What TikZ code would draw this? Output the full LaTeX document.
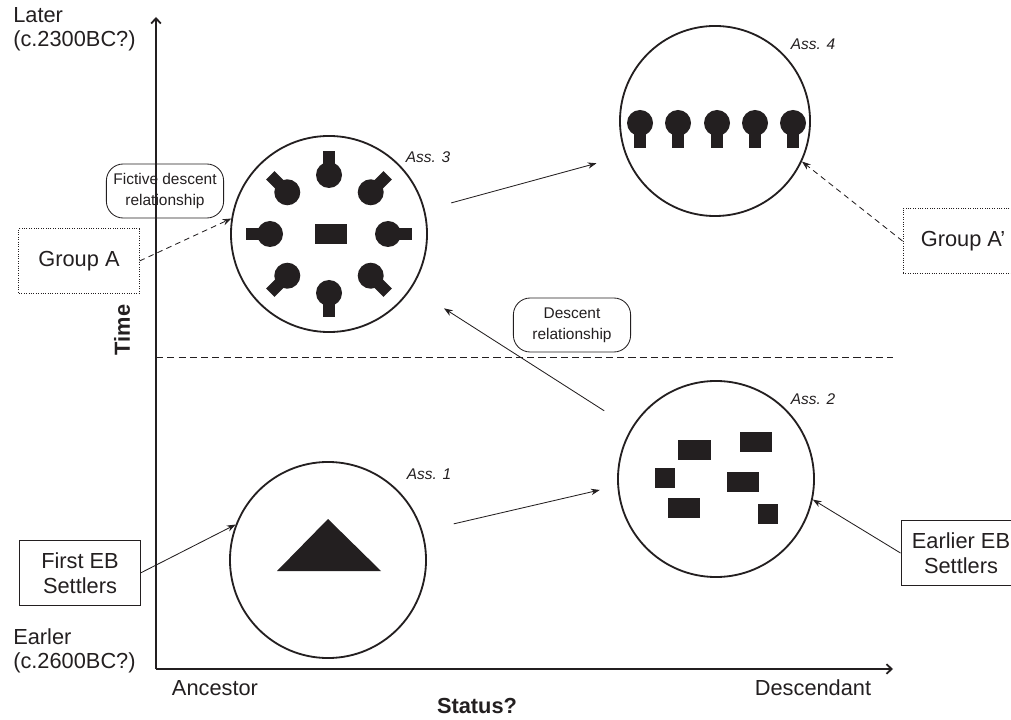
\documentclass[tikz,border=0pt]{standalone}
\usepackage{fontspec}
\setmainfont{Liberation Sans}
\usepackage{tikz}
\usetikzlibrary{
  arrows.meta,
  positioning,
  calc
}
\definecolor{assInk}{HTML}{231F20}

\tikzset{
  assCircle/.style={circle, draw=assInk, line width=1.3pt, minimum size=4.9cm, inner sep=0pt},
  assLabel/.style={font=\fontsize{11}{13}\selectfont\itshape, text=assInk},
  plainBox/.style={draw=assInk, line width=0.7pt, minimum width=3cm, minimum height=1.62cm, inner sep=0pt, align=center, text=assInk, font=\fontsize{15.5}{17.5}\selectfont},
  groupBox/.style={plainBox, densely dotted},
  noteBox/.style={draw=assInk, line width=0.6pt, rounded corners=0.42cm, minimum width=2.93cm, minimum height=1.35cm, inner sep=0pt, align=center, text=assInk, font=\fontsize{11}{15}\selectfont},
  link/.style={draw=assInk, line width=0.6pt, -{Stealth[length=2.2mm, width=1.6mm]}},
  axisLine/.style={draw=assInk, line width=1.3pt, -{Straight Barb[length=1.3mm, width=2.4mm]}},
  axisText/.style={inner sep=0pt, align=left, text=assInk, font=\fontsize{15.5}{17.5}\selectfont}
}

\begin{document}
\begin{tikzpicture}[x=0.025cm, y=-0.025cm]
  \useasboundingbox (0,0) rectangle (1011,720);
  \clip (0,0) rectangle (1011,720);

  \coordinate (origin) at (156,669);
  \coordinate (timeTop) at (156,17);
  \coordinate (statusEnd) at (893,669);
  \coordinate (splitL) at (156,357);
  \coordinate (splitR) at (893,357);
  \draw[axisLine] (origin) -- (timeTop);
  \draw[axisLine] (origin) -- (statusEnd);
  \draw[assInk, line width=0.6pt, dash pattern=on 5pt off 3pt] (splitL) -- (splitR);

  \node[axisText, anchor=north west] (later) at (13,7) {Later\\(c.2300BC?)};
  \node[axisText, anchor=north west] (earlier) at (13,628) {Earler\\(c.2600BC?)};
  \node[axisText] (ancestor) at (215,688) {Ancestor};
  \node[axisText] (descendant) at (813,688) {Descendant};
  \node[axisText, font=\fontsize{15.5}{17.5}\selectfont\bfseries] (status) at (477,706) {Status?};
  \node[axisText, font=\fontsize{15.5}{17.5}\selectfont\bfseries, rotate=90] (time) at (122,330) {Time};

  \node[assCircle] (ass1) at (328,560) {};
  \node[assCircle] (ass2) at (716,479) {};
  \node[assCircle] (ass3) at (329,234) {};
  \node[assCircle, minimum size=4.75cm] (ass4) at (715,121) {};
  \node[assLabel] (ass1Label) at (429,474) {Ass. 1};
  \node[assLabel] (ass2Label) at (813,399) {Ass. 2};
  \node[assLabel] (ass3Label) at (428,157) {Ass. 3};
  \node[assLabel] (ass4Label) at (813,44) {Ass. 4};

  \fill[assInk] (328,519) -- (381,571) -- (277,571) -- cycle;
  \foreach \x/\y/\w/\h in {678/440/33/20, 740/432/32/20, 655/468/20/20, 727/472/32/20, 668/498/32/20, 758/504/20/20}
    \fill[assInk] (\x,\y) rectangle ++(\w,\h);
  \fill[assInk] (315,224) rectangle (347,244);
  \foreach \a in {0,45,...,315} {
    \fill[assInk, shift={(ass3.center)}, rotate=\a] (59,0) circle (13);
    \fill[assInk, shift={(ass3.center)}, rotate=\a] (59,-6) rectangle (83,6);
  }
  \foreach \x in {640,678,717,755,793} {
    \fill[assInk] (\x,123) circle (13);
    \fill[assInk] (\x-6,123) rectangle (\x+6,148);
  }

  \node[groupBox] (groupA) at (79,261) {Group A};
  \node[groupBox] (groupA2) at (963,241) {Group A'};
  \node[plainBox] (firstEB) at (80,573) {First EB\\Settlers};
  \node[plainBox] (earlierEB) at (961,553) {Earlier EB\\Settlers};
  \node[noteBox] (fictive) at (165,191) {Fictive descent\\relationship};
  \node[noteBox] (descent) at (572,325) {Descent\\relationship};

  \draw[link, dash pattern=on 4pt off 3pt] (groupA.east) -- (ass3.171);
  \draw[link, dash pattern=on 4pt off 3pt] (groupA2.west) -- (ass4.-25);
  \draw[link] (firstEB.east) -- (ass1.159);
  \draw[link] (earlierEB.west) -- (ass2.-12);
  \draw[link, shorten <=0.8cm, shorten >=0.45cm] (ass1.17) -- (ass2.184);
  \draw[link, shorten <=0.8cm, shorten >=0.95cm] (ass2.149) -- (ass3.327);
  \draw[link, shorten <=0.68cm, shorten >=0.75cm] (ass3.14) -- (ass4.201);
\end{tikzpicture}
\end{document}
